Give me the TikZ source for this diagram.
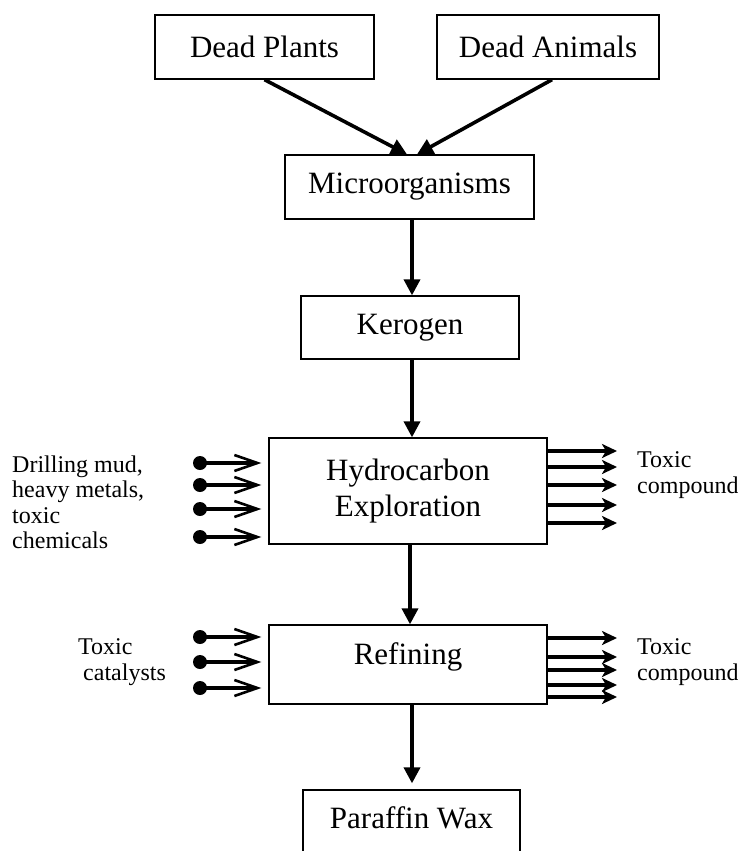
\documentclass[tikz,border=0pt]{standalone}
\usepackage{fontspec}
\setmainfont{Liberation Serif}
\usetikzlibrary{arrows.meta}
\tikzset{
  box/.style={draw, line width=1.3pt, inner sep=0pt, align=center, font=\fontsize{31}{36}\selectfont},
  flow/.style={line width=3.6pt, -{Triangle[length=16pt,width=16pt]}},
  inArrow/.style={line width=3.2pt, -{Straight Barb[length=23pt,width=16pt,line width=2.6pt]}, shorten >=7pt},
  outArrow/.style={line width=3.4pt, -{Stealth[length=15pt,width=14pt,inset=4pt]}},
  side/.style={anchor=north west, inner sep=0pt, align=left, font=\fontsize{24}{25.5}\selectfont}
}
\newcommand{\feedIn}[3]{ \coordinate (#1) at (200,#3); \fill (#1) circle (7pt); \draw[inArrow] (#1) -- (#1 -| #2.west);}
\newcommand{\feedOut}[3]{ \coordinate (#1) at (617,#3); \draw[outArrow] (#1 -| #2.east) -- (#1);}
\begin{document}
\begin{tikzpicture}[x=1pt, y=-1pt]
\useasboundingbox (0,0) rectangle (737,851);
% boxes
\node[box, minimum width=219pt, minimum height=64pt] (plants) at (264.5,47) {Dead Plants};
\node[box, minimum width=222pt, minimum height=64pt] (animals) at (548,47) {Dead Animals};
\node[box, minimum width=249pt, minimum height=64pt] (micro) at (409.5,187) {Microorganisms};
\node[box, minimum width=218pt, minimum height=63pt] (kerogen) at (410,327.5) {Kerogen};
\node[box, minimum width=278pt, minimum height=106pt] (hydro) at (408,491) {Hydrocarbon\\Exploration};
\node[box, minimum width=278pt, minimum height=79pt, text height=22pt, text depth=22pt] (refining) at (408,664.5) {Refining};
\node[box, minimum width=217pt, minimum height=94pt, text height=22pt, text depth=40pt] (wax) at (411.5,837) {Paraffin Wax};
% main flow
\draw[flow] (plants.south) -- ([xshift=-2.5pt]micro.north);
\draw[flow] ([xshift=4pt]animals.south) -- ([xshift=7.5pt]micro.north);
\draw[flow] ([xshift=2.5pt]micro.south) -- ([xshift=2pt]kerogen.north);
\draw[flow] ([xshift=2pt]kerogen.south) -- ([xshift=4pt]hydro.north);
\draw[flow] ([xshift=2pt]hydro.south) -- ([xshift=2pt]refining.north);
\draw[flow, shorten >=6pt] ([xshift=4pt]refining.south) -- ([xshift=0.5pt]wax.north);
% inputs and outputs, exploration
\feedIn{hin1}{hydro}{463}
\feedIn{hin2}{hydro}{485}
\feedIn{hin3}{hydro}{509}
\feedIn{hin4}{hydro}{537}
\feedOut{hout1}{hydro}{451}
\feedOut{hout2}{hydro}{467}
\feedOut{hout3}{hydro}{485}
\feedOut{hout4}{hydro}{505}
\feedOut{hout5}{hydro}{523}
% inputs and outputs, refining
\feedIn{rin1}{refining}{637}
\feedIn{rin2}{refining}{662}
\feedIn{rin3}{refining}{688}
\feedOut{rout1}{refining}{638}
\feedOut{rout2}{refining}{657}
\feedOut{rout3}{refining}{670}
\feedOut{rout4}{refining}{685}
\feedOut{rout5}{refining}{697}
% side labels
\node[side] (drilling) at (12,455.6) {Drilling mud,\\heavy metals,\\toxic\\chemicals};
\node[side] (hydroToxic) at (637,451.6) {Toxic\\compound};
\node[side] (catalysts) at (78,638.6) {Toxic\\\hspace*{5pt}catalysts};
\node[side] (refToxic) at (637,638.6) {Toxic\\compound};
\end{tikzpicture}
\end{document}
